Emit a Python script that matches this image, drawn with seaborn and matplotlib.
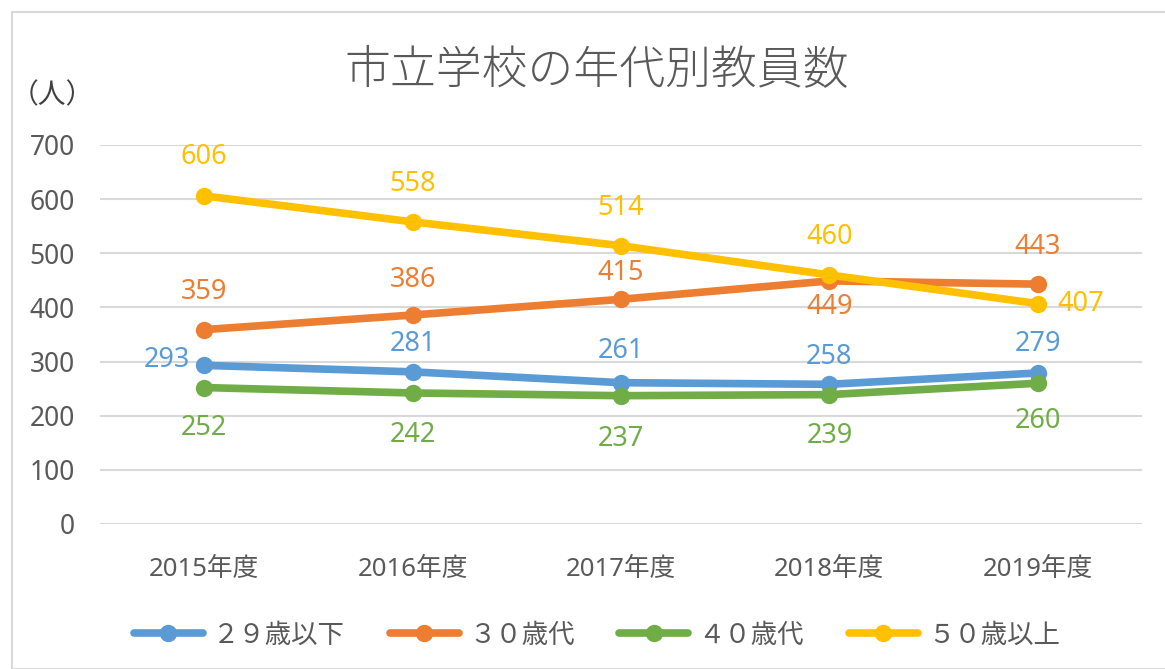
import matplotlib
matplotlib.use("Agg")
import matplotlib.pyplot as plt
import seaborn as sns
import pandas as pd
from matplotlib.patches import Rectangle

years = ["2015年度", "2016年度", "2017年度", "2018年度", "2019年度"]
series_names = ["２９歳以下", "３０歳代", "４０歳代", "５０歳以上"]
s29 = [293, 281, 261, 258, 279]
s30 = [359, 386, 415, 449, 443]
s40 = [252, 242, 237, 239, 260]
s50 = [606, 558, 514, 460, 407]
colors = ["#5B9BD5", "#ED7D31", "#70AD47", "#FFC000"]

sns.set_theme(style="white")
plt.rcParams['font.family'] = ['Noto Sans', 'Noto Sans CJK JP', 'DejaVu Sans']
CJK = ['Noto Sans CJK JP', 'DejaVu Sans']

fig = plt.figure(figsize=(11.65, 6.69), dpi=100)
ax = fig.add_axes([100/1165, 1-524/669, (1142-100)/1165, (524-145)/669])

fig.patches.append(Rectangle((12/1165, 0), 1.2, (669-12)/669, transform=fig.transFigure,
                             fill=False, edgecolor="#D9D9D9", linewidth=1.5))

values = [s29, s30, s40, s50]
rows = []
for name, vals in zip(series_names, values):
    for y, v in zip(years, vals):
        rows.append({"year": y, "series": name, "value": v})
df = pd.DataFrame(rows)

for name, col in zip(series_names, colors):
    sub = df[df.series == name]
    sns.lineplot(data=sub, x="year", y="value", ax=ax, color=col, linewidth=5.5,
                 marker="o", markersize=12.5, markeredgewidth=0, label=name,
                 solid_capstyle="round")

ax.set_xlim(-0.5, 4.5)
ax.set_ylim(0, 700)
ax.set_yticks(range(0, 701, 100))
ax.yaxis.grid(True, color="#D9D9D9", linewidth=1.5)
ax.set_axisbelow(True)
for sp in ax.spines.values():
    sp.set_visible(False)
ax.set_xlabel("")
ax.set_ylabel("")
ax.tick_params(axis="y", labelsize=19, colors="#595959", length=0, pad=18)
ax.tick_params(axis="x", labelsize=18.5, colors="#595959", length=0, pad=24)

offs = {
    "２９歳以下": [(-26, 4), (0, 20), (0, 23), (0, 20), (0, 21)],
    "３０歳代": [(0, 27), (0, 25), (0, 19), (0, -19), (0, 27)],
    "４０歳代": [(0, -29), (0, -30), (0, -31), (0, -30), (0, -27)],
    "５０歳以上": [(0, 28), (0, 27), (0, 27), (0, 27), (0, 0)],
}
for name, vals, col in zip(series_names, values, colors):
    for i, v in enumerate(vals):
        dx, dy = offs[name][i]
        if name == "５０歳以上" and i == 4:
            ax.annotate(str(v), (i, v), xytext=(14, 0), textcoords="offset points",
                        ha="left", va="center", fontsize=19.5, color=col)
        elif name == "２９歳以下" and i == 0:
            ax.annotate(str(v), (i, v), xytext=(-10, 4), textcoords="offset points",
                        ha="right", va="center", fontsize=19.5, color=col)
        else:
            ax.annotate(str(v), (i, v), xytext=(dx, dy), textcoords="offset points",
                        ha="center", va="center", fontsize=19.5, color=col)

fig.text(597/1165, 1-71/669, "市立学校の年代別教員数", ha="center", va="center",
         fontsize=33, color="#595959", fontweight="light", family=CJK)
fig.text(52/1165, 1-95/669, "（人）", ha="center", va="center",
         fontsize=20, color="#404040", family=CJK)

leg = ax.legend(loc="center", bbox_to_anchor=((597-100)/1042, -(635-524)/379),
                ncol=4, frameon=False, prop={"family": CJK, "size": 19},
                handlelength=2.6, columnspacing=1.7, handletextpad=0.4)
for t in leg.get_texts():
    t.set_color("#595959")

fig.savefig("out.png", dpi=100)
